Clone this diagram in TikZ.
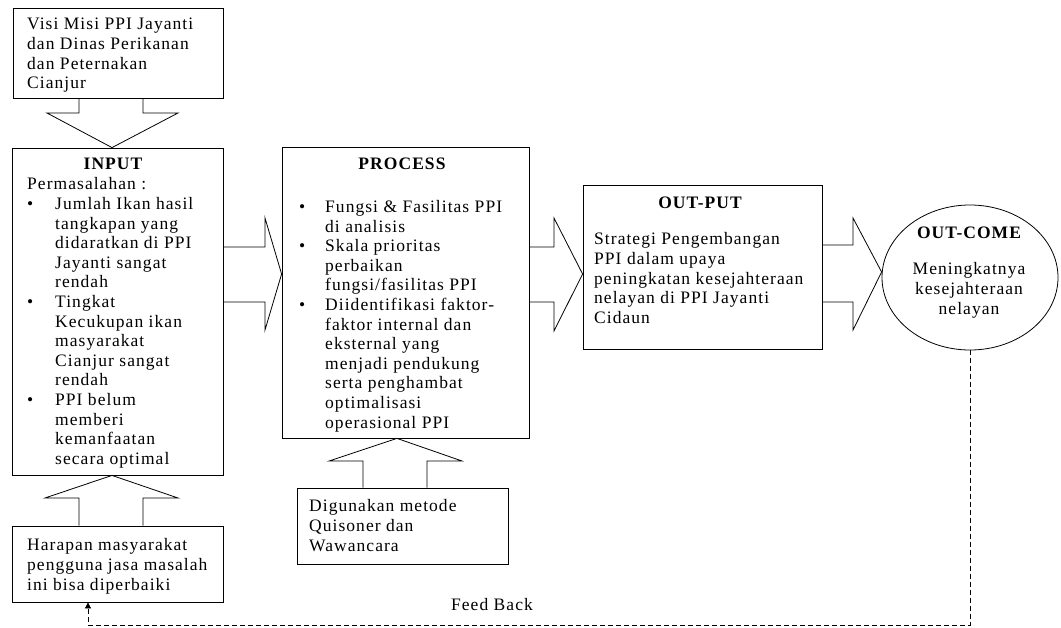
\documentclass[tikz,border=0pt]{standalone}
\usepackage{fontspec}
\setmainfont{Liberation Serif}[LetterSpace=6]
\usetikzlibrary{arrows.meta,shapes.geometric}
\newcommand\tf{\fontsize{17.5}{19.6}\selectfont}
\newcommand\bl{\makebox[28pt][l]{\textbullet}}
\newcommand\bi{\hspace*{28pt}}
\newcommand\pbul{\makebox[26pt][l]{\textbullet}}
\newcommand\pind{\hspace*{26pt}}
\begin{document}
\begin{tikzpicture}[x=1pt,y=-1pt,
  box/.style={draw, line width=0.8pt, inner sep=0pt},
  txt/.style={inner sep=0pt, anchor=north west, align=left, font=\tf},
  ctxt/.style={inner sep=0pt, anchor=north, align=center, font=\tf},
  ttl/.style={inner sep=0pt, anchor=north, font=\tf\bfseries},
  barrow/.style={draw, line width=0.8pt, line join=miter},
  fb/.style={line width=0.8pt, dash pattern=on 5pt off 3pt}]
\useasboundingbox (0,0) rectangle (1061,627);
% boxes
\node[box, minimum width=210pt, minimum height=90pt] (visi) at (118,53) {};
\node[box, minimum width=211pt, minimum height=327pt] (input) at (117.5,311.5) {};
\node[box, minimum width=211pt, minimum height=76pt] (harapan) at (117.5,564) {};
\node[box, minimum width=247pt, minimum height=291pt] (process) at (405.5,292.5) {};
\node[box, minimum width=211pt, minimum height=76pt] (metode) at (402.5,526) {};
\node[box, minimum width=239pt, minimum height=164pt] (output) at (702.5,267) {};
\node[box, ellipse, minimum width=176pt, minimum height=145pt] (outcome) at (970,277.5) {};
% texts
\node[txt] (tvisi) at (27,16) {\strut Visi Misi PPI Jayanti\\dan Dinas Perikanan\\dan Peternakan\\Cianjur};
\node[ttl] (tinput) at (113,158) {INPUT};
\node[txt] (tperm) at (27,176) {\strut Permasalahan :\\
\bl Jumlah Ikan hasil\\ \bi tangkapan yang\\ \bi didaratkan di PPI\\ \bi Jayanti sangat\\ \bi rendah\\
\bl Tingkat\\ \bi Kecukupan ikan\\ \bi masyarakat\\ \bi Cianjur sangat\\ \bi rendah\\
\bl PPI belum\\ \bi memberi\\ \bi kemanfaatan\\ \bi secara optimal};
\node[ttl] (tprocess) at (402,158) {PROCESS};
\node[txt] (tproc) at (299,198.5) {\strut\pbul Fungsi \& Fasilitas PPI\\ \pind di analisis\\
\pbul Skala prioritas\\ \pind perbaikan\\ \pind fungsi/fasilitas PPI\\
\pbul Diidentifikasi faktor-\\ \pind faktor internal dan\\ \pind eksternal yang\\ \pind menjadi pendukung\\ \pind serta penghambat\\ \pind optimalisasi\\ \pind operasional PPI};
\node[ttl] (toutput) at (700,197) {OUT-PUT};
\node[txt] (tout) at (594,231) {\strut Strategi Pengembangan\\PPI dalam upaya\\peningkatan kesejahteraan\\nelayan di PPI Jayanti\\Cidaun};
\node[ttl] (toutcome) at (969,227) {OUT-COME};
\node[ctxt] (tcome) at (969,261) {\strut Meningkatnya\\kesejahteraan\\nelayan};
\node[txt] (tharapan) at (27,537) {\strut Harapan masyarakat\\pengguna jasa masalah\\ini bisa diperbaiki};
\node[txt] (tmetode) at (309,498) {\strut Digunakan metode\\Quisoner dan\\Wawancara};
\node[font=\tf, inner sep=0pt] (tfeed) at (492,605) {Feed Back};
% block arrows
\draw[barrow] (visi.south -| 79,0) -- (79,113) -- (47,113) -- (input.north -| 112,0) -- (178,113) -- (143,113) -- (visi.south -| 143,0);
\draw[barrow] (harapan.north -| 79,0) -- (79,498) -- (45,498) -- (input.south -| 112,0) -- (178,498) -- (143,498) -- (harapan.north -| 143,0);
\draw[barrow] (metode.north -| 363,0) -- (363,461) -- (329,461) -- (process.south -| 397,0) -- (462,461) -- (427,461) -- (metode.north -| 427,0);
\draw[barrow] (input.east |- 0,247) -- (265,247) -- (265,218) -- (process.west |- 0,274) -- (265,330) -- (265,302) -- (input.east |- 0,302);
\draw[barrow] (process.east |- 0,247) -- (554,247) -- (554,218) -- (output.west |- 0,274) -- (554,331) -- (554,302) -- (process.east |- 0,302);
\draw[barrow] (output.east |- 0,245) -- (853,245) -- (853,218) -- (outcome.west |- 0,272) -- (853,330) -- (853,302) -- (output.east |- 0,302);
% feedback
\draw[fb, -{Triangle[length=6pt,width=6pt]}] (outcome.south) |- (88,625) -- (harapan.south -| 88,0);
\end{tikzpicture}
\end{document}
